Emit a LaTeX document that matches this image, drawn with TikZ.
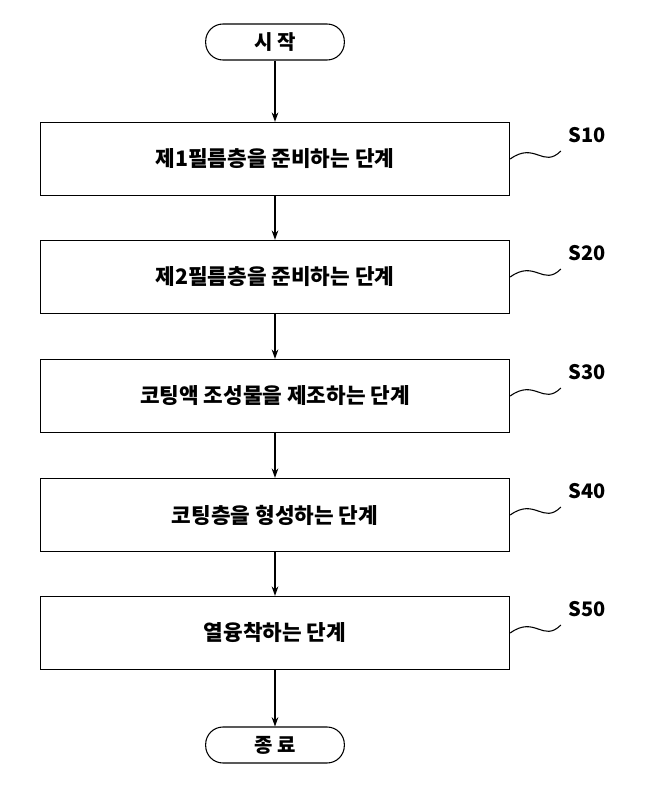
\documentclass[tikz,border=0pt]{standalone}
\usepackage{fontspec}
\setmainfont{Noto Sans CJK KR}
\usetikzlibrary{positioning, arrows.meta}

\begin{document}
\begin{tikzpicture}[
    x=0.75pt, y=-0.75pt,
    stage/.style={rectangle, draw, thick, minimum width=352pt, minimum height=55pt, font=\bfseries\fontsize{16}{18}\selectfont},
    term/.style={rectangle, draw, thick, rounded corners=13pt, minimum width=104pt, minimum height=27pt, font=\bfseries\fontsize{15}{17}\selectfont},
    arrow/.style={-{Stealth[length=7pt, width=5pt]}, thick},
    tag/.style={font=\bfseries\fontsize{15}{17}\selectfont}
]
    \useasboundingbox (0,0) rectangle (646,803);

    % Terminals
    \node[term] (start) at (275,42) {시 작};
    \node[term] (stop) at (275,745) {종 료};

    % Steps
    \node[stage] (s10) at (275,159) {제1필름층을 준비하는 단계};
    \node[stage] (s20) at (275,277) {제2필름층을 준비하는 단계};
    \node[stage] (s30) at (275,396) {코팅액 조성물을 제조하는 단계};
    \node[stage] (s40) at (275,515) {코팅층을 형성하는 단계};
    \node[stage] (s50) at (275,633) {열융착하는 단계};

    % Flow
    \draw[arrow] (start) -- (s10);
    \draw[arrow] (s10) -- (s20);
    \draw[arrow] (s20) -- (s30);
    \draw[arrow] (s30) -- (s40);
    \draw[arrow] (s40) -- (s50);
    \draw[arrow] (s50) -- (stop);

    % Step tags
    \foreach \s/\t in {s10/S10, s20/S20, s30/S30, s40/S40, s50/S50} {
        \node[tag, above right=9pt and 40pt of \s.east] (\s tag) {\t};
        \draw[thick] (\s.east) .. controls +(25,-18) and +(-18,18) .. ([xshift=-2pt, yshift=-3pt]\s tag.south west);
    }
\end{tikzpicture}
\end{document}
